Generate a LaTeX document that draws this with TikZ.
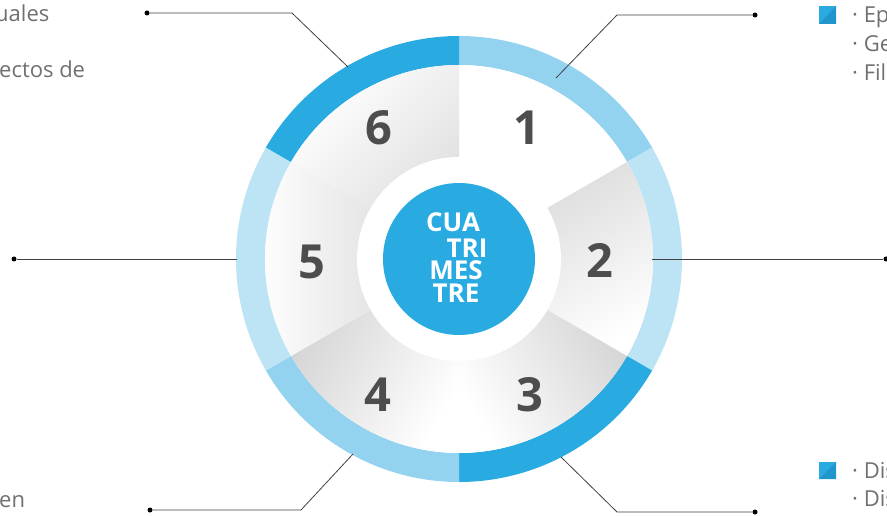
\documentclass[tikz,border=0pt]{standalone}
\usepackage{fontspec}
\setmainfont{Open Sans}
\definecolor{azul}{HTML}{29ABE2}
\definecolor{azulosc}{HTML}{2096CC}
\definecolor{celeste}{HTML}{94D3F0}
\definecolor{claro}{HTML}{BDE4F5}
\definecolor{cifra}{HTML}{4D4D4D}
\definecolor{gris}{HTML}{707070}
\begin{document}
\begin{tikzpicture}[x=1pt,y=1pt,
  num/.style={text=cifra,font=\fontsize{47}{47}\selectfont\bfseries},
  centro/.style={text=white,font=\fontsize{26}{26}\selectfont\bfseries,anchor=base,inner sep=0pt},
  lista/.style={text=gris,font=\fontsize{22}{29}\selectfont,anchor=base west,inner sep=0pt},
  linea/.style={black!75,line width=.8pt},
  punto/.style={circle,fill=black,inner sep=0pt,minimum size=5pt}]
\useasboundingbox (0,0) rectangle (887,515);
\begin{scope}[shift={(459,256)}]
\foreach \a/\col in {30/celeste,-30/claro,-90/azul,-150/celeste,150/claro,90/azul}
{
    \fill[\col] (\a:194)--(\a:223) arc[start angle=\a,end angle=\a+60,radius=223]
        --(\a+60:194) arc[start angle=\a+60,end angle=\a,radius=194]--cycle;
}
\foreach \a/\s/\g in {30/0/0,-30/30/16,-90/-60/18,-150/60/18,150/-90/18,90/-135/14}
{
    \shade[top color=black!\g,bottom color=white,shading angle=\s]
        (0,0)--(\a:194) arc[start angle=\a,end angle=\a+60,radius=194]--cycle;
}
\fill[white] (0,0) circle (102);
\fill[azul] (0,0) circle (76);
\end{scope}
\foreach \i/\x/\y in {1/527/387,2/600/255,3/530/120,4/378/120,5/312/253,6/379/387}
{
    \node[num] (n\i) at (\x,\y) {\i};
}
\node[centro] (cua) at (453,283) {CUA};
\node[centro] (tri) at (467,258) {TRI};
\node[centro] (mes) at (456,235) {MES};
\node[centro] (tre) at (456,212) {TRE};
% conectores
\node[punto] (p6) at (147,502) {};
\coordinate (q6) at (292,502);
\coordinate (r6) at (348,448);
\node[punto] (p1) at (755,500) {};
\coordinate (q1) at (617,500);
\coordinate (r1) at (556,437);
\node[punto] (p2) at (886,256) {};
\coordinate (r2) at (652,256);
\node[punto] (p5) at (14,256) {};
\coordinate (r5) at (237,256);
\node[punto] (p4) at (150,5) {};
\coordinate (q4) at (301,5);
\coordinate (r4) at (353,61);
\node[punto] (p3) at (755,3) {};
\coordinate (q3) at (617,3);
\coordinate (r3) at (561,58);
\draw[linea] (p6)--(q6)--(r6);
\draw[linea] (p1)--(q1)--(r1);
\draw[linea] (r2)--(p2);
\draw[linea] (p5)--(r5);
\draw[linea] (p4)--(q4)--(r4);
\draw[linea] (p3)--(q3)--(r3);
% textos
\node[lista] (t61) at (-5,493) {uales};
\node[lista] (t62) at (-1,437) {ectos de};
\node[lista] (t41) at (-1,8) {en};
\foreach \y/\yb in {491/509,36/53}
{
    \fill[azul] (819,\y) rectangle (836,\yb);
    \fill[azulosc] (836,\yb)--(836,\y)--(819,\y)--cycle;
}
\node[lista] (t11) at (852,492) {· Ep};
\node[lista] (t12) at (852,463) {· Ge};
\node[lista] (t13) at (852,434) {· Fil};
\node[lista] (t31) at (852,37) {· Dis};
\node[lista] (t32) at (852,9) {· Dis};
\end{tikzpicture}
\end{document}
